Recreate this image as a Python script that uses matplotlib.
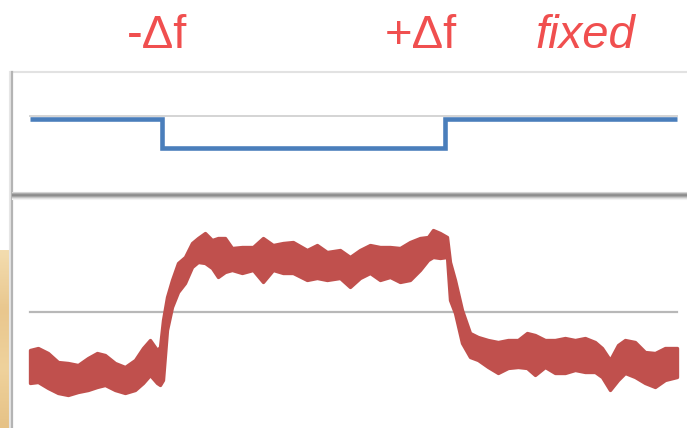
import numpy as np
import matplotlib.pyplot as plt

plt.rcParams['font.family'] = ['Liberation Sans', 'DejaVu Sans']

# frequency step (blue trace): segment edges and levels, screen units (y grows downward)
step_x = [30, 162, 445, 677]
step_level = [119, 148, 119]

# response (red trace): upper / lower edge of the noisy band
red_x = [30, 38, 48, 58, 68, 78, 88, 97, 105, 115, 125, 135, 143, 150, 157, 160,
         163, 167, 172, 178, 185, 192, 198, 205, 212, 218, 225, 232, 242, 253,
         263, 273, 283, 293, 307, 317, 327, 340, 350, 360, 370, 380, 390, 400,
         410, 420, 428, 433, 440, 447, 450, 455, 462, 470, 478, 488, 498, 508,
         518, 527, 535, 545, 555, 565, 575, 585, 595, 602, 610, 618, 625, 635,
         645, 655, 665, 677]
red_top = [350, 348, 353, 362, 363, 365, 358, 353, 355, 363, 367, 360, 348, 340, 350, 347,
           320, 297, 280, 263, 257, 243, 238, 233, 240, 238, 238, 248, 247, 247,
           238, 245, 243, 242, 250, 245, 252, 250, 257, 250, 245, 247, 247, 248,
           242, 238, 237, 230, 233, 237, 262, 280, 310, 333, 337, 340, 342, 340,
           340, 333, 335, 340, 340, 338, 340, 338, 342, 348, 360, 345, 340, 342,
           352, 353, 348, 348]
red_bottom = [383, 382, 388, 393, 395, 392, 390, 387, 385, 390, 393, 390, 383, 375, 383, 385,
              380, 330, 307, 292, 283, 267, 262, 263, 268, 277, 272, 270, 273, 270,
              282, 270, 273, 273, 280, 278, 280, 278, 287, 278, 273, 280, 277, 282,
              280, 270, 260, 257, 258, 257, 300, 313, 343, 357, 360, 367, 373, 368,
              367, 368, 375, 367, 373, 373, 370, 372, 372, 377, 390, 380, 373, 377,
              383, 387, 380, 377]

ref_upper = 116   # reference level, top panel
ref_lower = 312   # reference level, bottom panel

labels = ['-\u0394f', '+\u0394f', 'fixed']
label_x = [157, 421, 585]

fig = plt.figure(figsize=(6.87, 4.28), dpi=100)
ax = fig.add_axes([0, 0, 1, 1])
ax.set_xlim(0, 687)
ax.set_ylim(428, 0)
ax.axis('off')

# wooden strip peeking out on the left
wood = np.linspace(0, 1, 60).reshape(-1, 1) * np.ones((1, 4))
ax.imshow(wood, cmap=plt.matplotlib.colors.LinearSegmentedColormap.from_list(
    'wood', ['#f3dcae', '#e9c78e', '#efd29c', '#e6c286']),
    extent=[0, 10, 428, 250], aspect='auto', zorder=0)

# panel frame
ax.plot([12, 687], [72, 72], color='#e2e2e2', lw=1.5, zorder=1)
ax.plot([10, 10], [72, 428], color='#e6e6e6', lw=1.5, zorder=1)
ax.plot([12, 12], [72, 428], color='#b4b4b4', lw=1.6, zorder=1)
shadow = ['#d8d8d8', '#b0b0b0', '#939393', '#8c8c8c', '#a4a4a4', '#c4c4c4', '#e0e0e0', '#f2f2f2']
for i, c in enumerate(shadow):
    ax.plot([12, 687], [192 + i, 192 + i], color=c, lw=0.8, zorder=1)

# reference levels
ax.plot([30, 677], [ref_upper, ref_upper], color='#d4d4d4', lw=1.4, zorder=2)
ax.plot([30, 677], [ref_lower, ref_lower], color='#b8b8b8', lw=1.6, zorder=2)

# blue step
ax.stairs(step_level, step_x, baseline=None, color='#4a7ebb', lw=3.3, zorder=3)

# red noisy response
ax.fill_between(red_x, red_top, red_bottom, color='#c0504d', lw=2.4,
                edgecolor='#c0504d', joinstyle='round', zorder=3)

for x, t in zip(label_x, labels):
    ax.text(x, 48, t, color='#f04f4f', fontsize=34, ha='center', va='baseline',
            style='italic' if t == 'fixed' else 'normal')

fig.savefig('out.png', dpi=100)
